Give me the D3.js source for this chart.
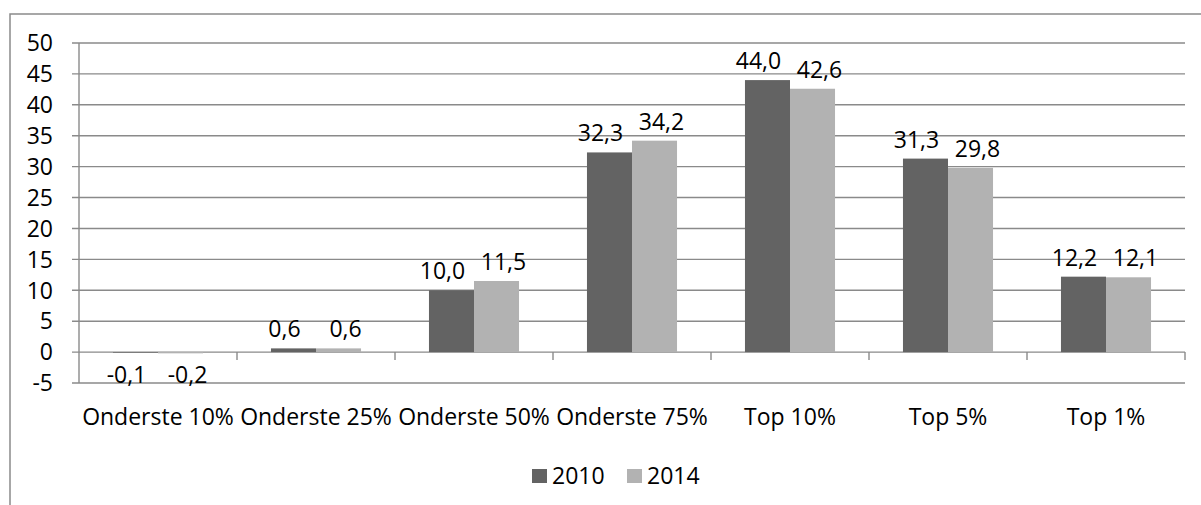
<!DOCTYPE html>
<html><head><meta charset="utf-8">
<script src="https://cdn.jsdelivr.net/npm/d3@7"></script>
<style>body{margin:0;background:#fff}svg{display:block}text{font-family:"Open Sans", sans-serif;fill:#000}</style>
</head><body>
<svg id="c" width="1201" height="505"></svg>
<script>
const categories = ["Onderste 10%","Onderste 25%","Onderste 50%","Onderste 75%","Top 10%","Top 5%","Top 1%"];
const seriesNames = ["2010","2014"];
const values2010 = [-0.1,0.6,10.0,32.3,44.0,31.3,12.2];
const values2014 = [-0.2,0.6,11.5,34.2,42.6,29.8,12.1];
const yTicks = [-5,0,5,10,15,20,25,30,35,40,45,50];
const colors = ["#636363","#b2b2b2"];

const FS = 23;
const svg = d3.select("#c");
const grid = "#8a8a8a";
// outer frame
svg.append("rect").attr("x",10).attr("y",14).attr("width",1300).attr("height",600)
  .attr("fill","none").attr("stroke",grid).attr("stroke-width",1.5);

const x0 = d3.scaleBand().domain(categories).range([79,1185]).paddingInner(0.43).paddingOuter(0.215);
const x1 = d3.scaleBand().domain(seriesNames).range([0,x0.bandwidth()]);
const y = d3.scaleLinear().domain([-5,50]).range([383,43]);

// gridlines
svg.append("g").selectAll("line").data(yTicks).join("line")
  .attr("x1",72).attr("x2",1185).attr("y1",d=>y(d)).attr("y2",d=>y(d))
  .attr("stroke",grid).attr("stroke-width",1.4);
// y axis
svg.append("line").attr("x1",79).attr("x2",79).attr("y1",y(50)).attr("y2",y(-5))
  .attr("stroke",grid).attr("stroke-width",1.4);
svg.append("g").selectAll("text").data(yTicks).join("text")
  .attr("x",53).attr("y",d=>y(d)).attr("dy","0.36em").attr("text-anchor","end")
  .attr("font-size",FS).text(d=>d);

// bars
const data = categories.map((c,i)=>({c, v:[values2010[i],values2014[i]]}));
const nudge = [-9, 7];
const g = svg.append("g");
data.forEach(d=>{
  d.v.forEach((v,j)=>{
    const s = seriesNames[j];
    g.append("rect").attr("x",x0(d.c)+x1(s)).attr("width",x1.bandwidth())
      .attr("y",y(Math.max(0,v))).attr("height",Math.abs(y(v)-y(0)))
      .attr("fill",colors[j]);
    g.append("text").attr("x",x0(d.c)+x1(s)+x1.bandwidth()/2+nudge[j])
      .attr("y", v>=0 ? y(v)-11 : y(v)+30)
      .attr("text-anchor","middle").attr("font-size",FS)
      .text(d3.format(".1f")(v).replace(".",",").replace("−","-"));
  });
});

// category axis ticks at zero line
const step = x0.step();
const bounds = d3.range(categories.length+1).map(i=>79+i*step);
svg.append("g").selectAll("line").data(bounds.slice(1)).join("line")
  .attr("x1",d=>d).attr("x2",d=>d).attr("y1",y(0)).attr("y2",y(0)+8)
  .attr("stroke",grid).attr("stroke-width",1.4);
svg.append("g").selectAll("text").data(categories).join("text")
  .attr("x",d=>x0(d)+x0.bandwidth()/2).attr("y",417).attr("dy","0.36em")
  .attr("text-anchor","middle").attr("font-size",FS).text(d=>d);

// legend
const leg = svg.append("g");
const legItems = [{n:"2010",c:colors[0],x:532},{n:"2014",c:colors[1],x:627}];
legItems.forEach(it=>{
  leg.append("rect").attr("x",it.x).attr("y",469).attr("width",15).attr("height",14).attr("fill",it.c);
  leg.append("text").attr("x",it.x+20).attr("y",476).attr("dy","0.36em").attr("font-size",FS).text(it.n);
});
</script>
</body></html>
